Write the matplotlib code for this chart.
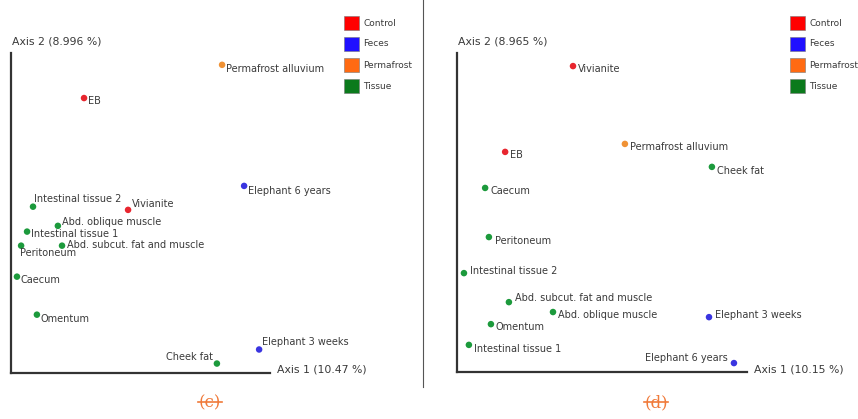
import matplotlib
matplotlib.use("Agg")
import matplotlib.pyplot as plt
from matplotlib.patches import Rectangle
from matplotlib.lines import Line2D

W, H, DPI = 858, 419, 100

# ---- data: PCoA coordinates (axis units scaled 0-100 along each drawn axis) ----
groups = ["Control", "Feces", "Permafrost", "Tissue"]
group_colors = {"Control": "#ff0000", "Feces": "#1f10ff", "Permafrost": "#ff6a12", "Tissue": "#0b7a1c"}
dot_colors = {"Control": "#e8262f", "Feces": "#3a35e0", "Permafrost": "#f09235", "Tissue": "#1c9a3c"}

c_samples = ["Permafrost alluvium", "EB", "Elephant 6 years", "Intestinal tissue 2", "Vivianite",
             "Abd. oblique muscle", "Intestinal tissue 1", "Peritoneum", "Abd. subcut. fat and muscle",
             "Caecum", "Omentum", "Elephant 3 weeks", "Cheek fat"]
c_groups = ["Permafrost", "Control", "Feces", "Tissue", "Control",
            "Tissue", "Tissue", "Tissue", "Tissue",
            "Tissue", "Tissue", "Feces", "Tissue"]
c_axis1 = [81.5, 28.2, 90.0, 8.5, 45.2, 18.1, 6.2, 3.9, 19.7, 2.3, 10.0, 95.8, 79.5]
c_axis2 = [96.3, 85.9, 58.4, 51.9, 50.9, 45.9, 44.1, 39.7, 39.7, 30.0, 18.1, 7.2, 2.8]
c_axis_labels = ("Axis 1 (10.47 %)", "Axis 2 (8.996 %)")

d_samples = ["Vivianite", "EB", "Permafrost alluvium", "Cheek fat", "Caecum", "Peritoneum",
             "Intestinal tissue 2", "Abd. subcut. fat and muscle", "Abd. oblique muscle",
             "Elephant 3 weeks", "Omentum", "Intestinal tissue 1", "Elephant 6 years"]
d_groups = ["Control", "Control", "Permafrost", "Tissue", "Tissue", "Tissue",
            "Tissue", "Tissue", "Tissue",
            "Feces", "Tissue", "Tissue", "Feces"]
d_axis1 = [40.0, 16.6, 57.9, 87.9, 9.7, 11.0, 2.4, 17.9, 33.1, 86.9, 11.7, 4.1, 95.5]
d_axis2 = [95.9, 69.0, 71.5, 64.3, 57.7, 42.3, 31.0, 21.9, 18.8, 17.2, 15.0, 8.5, 2.8]
d_axis_labels = ("Axis 1 (10.15 %)", "Axis 2 (8.965 %)")

# label placement (pixel offsets from each point, horizontal alignment)
c_label_pos = {
    "Permafrost alluvium": (4, -4, "left"), "EB": (4, -3, "left"),
    "Elephant 6 years": (4, -5, "left"), "Intestinal tissue 2": (1, 8, "left"),
    "Vivianite": (4, 6, "left"), "Abd. oblique muscle": (4, 4, "left"),
    "Intestinal tissue 1": (4, -2, "left"), "Peritoneum": (-1, -7, "left"),
    "Abd. subcut. fat and muscle": (5, 1, "left"), "Caecum": (4, -3, "left"),
    "Omentum": (4, -4, "left"), "Elephant 3 weeks": (3, 7, "left"),
    "Cheek fat": (-4, 7, "right"),
}
d_label_pos = {
    "Vivianite": (5, -3, "left"), "EB": (5, -3, "left"),
    "Permafrost alluvium": (5, -3, "left"), "Cheek fat": (5, -4, "left"),
    "Caecum": (5, -3, "left"), "Peritoneum": (6, -4, "left"),
    "Intestinal tissue 2": (6, 2, "left"), "Abd. subcut. fat and muscle": (6, 4, "left"),
    "Abd. oblique muscle": (5, -3, "left"), "Elephant 3 weeks": (6, 2, "left"),
    "Omentum": (5, -3, "left"), "Intestinal tissue 1": (5, -4, "left"),
    "Elephant 6 years": (-6, 5, "right"),
}

TEXT = "#3a3a3a"
plt.rcParams["font.family"] = ["DejaVu Sans"]

fig = plt.figure(figsize=(W / DPI, H / DPI), dpi=DPI)
fig.patch.set_facecolor("white")


def fx(px):
    return px / W


def fy(py):
    return 1 - py / H


def panel(box, xs, ys, names, grps, label_pos, axis_labels):
    left, top, right, bottom = box
    ax = fig.add_axes([fx(left), fy(bottom), fx(right - left), (bottom - top) / H])
    ax.set_xlim(0, 100)
    ax.set_ylim(0, 100)
    for s in ("top", "right"):
        ax.spines[s].set_visible(False)
    for s in ("left", "bottom"):
        ax.spines[s].set_color("#333333")
        ax.spines[s].set_linewidth(1.6)
    ax.set_xticks([])
    ax.set_yticks([])
    ax.patch.set_alpha(0)
    for x, y, n, g in zip(xs, ys, names, grps):
        ax.scatter([x], [y], s=22, color=dot_colors[g], edgecolors="none", zorder=3, clip_on=False)
        dx, dy, ha = label_pos[n]
        ax.annotate(n, (x, y), xytext=(dx, dy), textcoords="offset pixels",
                    ha=ha, va="center", fontsize=7, color=TEXT)
    ax.annotate(axis_labels[1], (0, 1), xycoords="axes fraction", xytext=(1, 11),
                textcoords="offset pixels", ha="left", va="center", fontsize=7.8, color=TEXT)
    ax.annotate(axis_labels[0], (1, 0), xycoords="axes fraction", xytext=(7, 3),
                textcoords="offset pixels", ha="left", va="center", fontsize=7.8, color=TEXT)
    return ax


def legend(x0, y0):
    for i, g in enumerate(groups):
        y = y0 + i * 21
        fig.patches.append(Rectangle((fx(x0), fy(y + 14)), 15 / W, 14 / H,
                                     transform=fig.transFigure, facecolor=group_colors[g],
                                     edgecolor="#777777", linewidth=0.4))
        fig.text(fx(x0 + 19), fy(y + 7), g, fontsize=6.5, color=TEXT, ha="left", va="center")


def caption(xc, yc, letter):
    fig.text(fx(xc), fy(yc), f"({letter})", fontsize=12, family="DejaVu Serif",
             color="#f07a3a", ha="center", va="center")
    fig.lines.append(Line2D([fx(xc - 12), fx(xc + 12)], [fy(yc - 1), fy(yc - 1)],
                            transform=fig.transFigure, color="#f07a3a", linewidth=1.2))


panel((11, 53, 270, 372.5), c_axis1, c_axis2, c_samples, c_groups, c_label_pos, c_axis_labels)
panel((457, 53, 747, 372), d_axis1, d_axis2, d_samples, d_groups, d_label_pos, d_axis_labels)

legend(344, 16)
legend(790, 16)

# divider between the two panels
fig.lines.append(Line2D([fx(422.5), fx(422.5)], [fy(0), fy(387)], transform=fig.transFigure,
                        color="#555555", linewidth=0.8))

caption(210, 403, "c")
caption(656, 403, "d")

fig.savefig("out.png", dpi=DPI, facecolor="white")
